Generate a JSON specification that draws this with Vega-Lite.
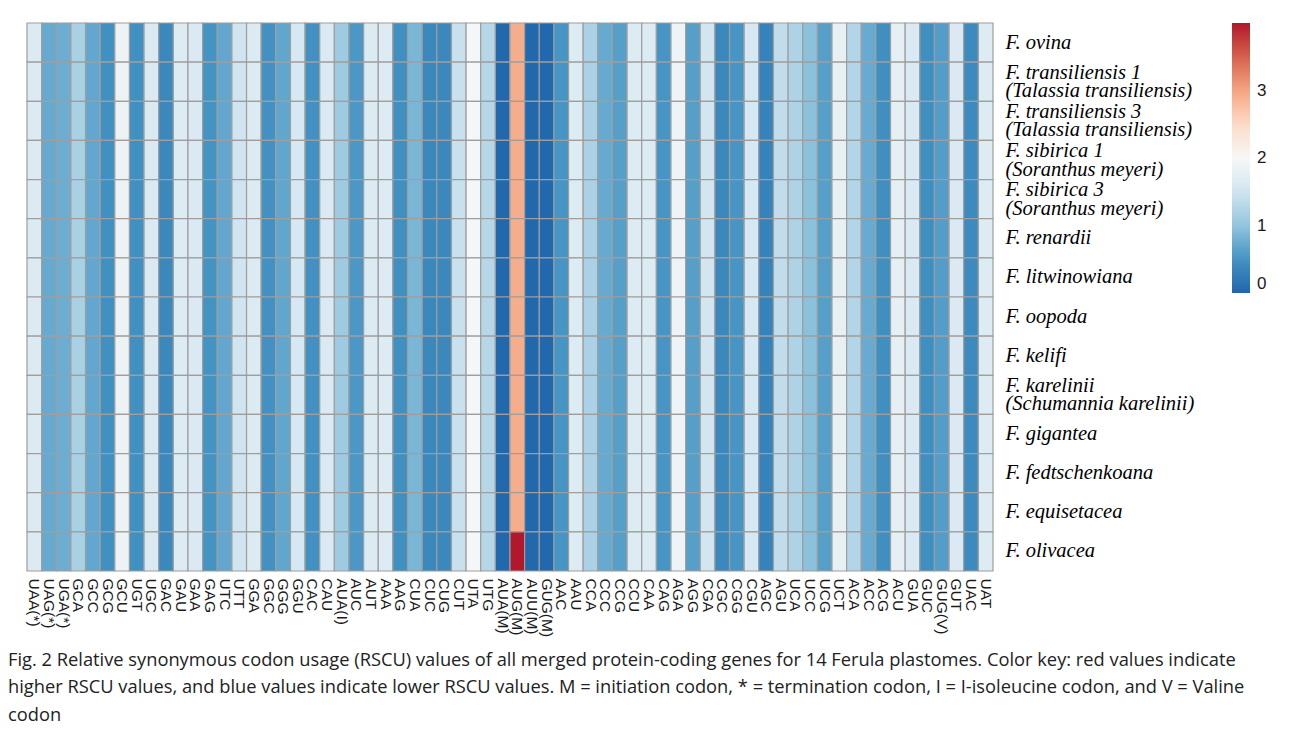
{
"$schema":"https://vega.github.io/schema/vega-lite/v6.json",
"width":966,"height":548,
"padding":{"left":8,"top":22,"right":5,"bottom":8},
"background":"white",
"config":{"view":{"stroke":null},"font":"Liberation Sans"},
"title":{"text":["Fig. 2  Relative synonymous codon usage (RSCU) values of all merged protein-coding genes for 14 Ferula plastomes. Color key: red values indicate","higher RSCU values, and blue values indicate lower RSCU values. M = initiation codon, * = termination codon, I = I-isoleucine codon, and V = Valine","codon"],"orient":"bottom","anchor":"start","frame":"group","dx":-19,"offset":15,"font":"Open Sans","fontSize":18.3,"fontWeight":"normal","lineHeight":27.5,"color":"#222222"},
"datasets":{
"species":[{"sp":"ov","order":1,"label":"F. ovina"},{"sp":"tr1","order":2,"label":"F. transiliensis 1|(Talassia transiliensis)"},{"sp":"tr3","order":3,"label":"F. transiliensis 3|(Talassia transiliensis)"},{"sp":"si1","order":4,"label":"F. sibirica 1|(Soranthus meyeri)"},{"sp":"si3","order":5,"label":"F. sibirica 3|(Soranthus meyeri)"},{"sp":"re","order":6,"label":"F. renardii"},{"sp":"li","order":7,"label":"F. litwinowiana"},{"sp":"oo","order":8,"label":"F. oopoda"},{"sp":"ke","order":9,"label":"F. kelifi"},{"sp":"ka","order":10,"label":"F. karelinii|(Schumannia karelinii)"},{"sp":"gi","order":11,"label":"F. gigantea"},{"sp":"fe","order":12,"label":"F. fedtschenkoana"},{"sp":"eq","order":13,"label":"F. equisetacea"},{"sp":"ol","order":14,"label":"F. olivacea"}],
"cells":[
{"sp":"ov","codon":"UAA(*)","rscu":1.65},{"sp":"ov","codon":"UAG(*)","rscu":0.73},{"sp":"ov","codon":"UGA(*)","rscu":0.76},{"sp":"ov","codon":"GCA","rscu":1.18},{"sp":"ov","codon":"GCC","rscu":0.7},{"sp":"ov","codon":"GCG","rscu":0.47},{"sp":"ov","codon":"GCU","rscu":1.87},{"sp":"ov","codon":"UGT","rscu":0.47},{"sp":"ov","codon":"UGC","rscu":1.62},{"sp":"ov","codon":"GAC","rscu":0.38},{"sp":"ov","codon":"GAU","rscu":1.66},{"sp":"ov","codon":"GAA","rscu":1.63},{"sp":"ov","codon":"GAG","rscu":0.5},{"sp":"ov","codon":"UTC","rscu":0.7},{"sp":"ov","codon":"UTT","rscu":1.5},{"sp":"ov","codon":"GGA","rscu":1.64},{"sp":"ov","codon":"GGC","rscu":0.48},{"sp":"ov","codon":"GGG","rscu":0.69},{"sp":"ov","codon":"GGU","rscu":1.57},{"sp":"ov","codon":"CAC","rscu":0.48},{"sp":"ov","codon":"CAU","rscu":1.63},{"sp":"ov","codon":"AUA(I)","rscu":1.1},{"sp":"ov","codon":"AUC","rscu":0.55},{"sp":"ov","codon":"AUT","rscu":1.64},{"sp":"ov","codon":"AAA","rscu":1.66},{"sp":"ov","codon":"AAG","rscu":0.45},{"sp":"ov","codon":"CUA","rscu":0.85},{"sp":"ov","codon":"CUC","rscu":0.38},{"sp":"ov","codon":"CUG","rscu":0.38},{"sp":"ov","codon":"CUT","rscu":1.43},{"sp":"ov","codon":"UTA","rscu":1.97},{"sp":"ov","codon":"UTG","rscu":1.28},{"sp":"ov","codon":"AUA(M)","rscu":0.02},{"sp":"ov","codon":"AUG(M)","rscu":2.93},{"sp":"ov","codon":"AUU(M)","rscu":0.02},{"sp":"ov","codon":"GUG(M)","rscu":0.02},{"sp":"ov","codon":"AAC","rscu":0.52},{"sp":"ov","codon":"AAU","rscu":1.66},{"sp":"ov","codon":"CCA","rscu":1.19},{"sp":"ov","codon":"CCC","rscu":0.73},{"sp":"ov","codon":"CCG","rscu":0.62},{"sp":"ov","codon":"CCU","rscu":1.66},{"sp":"ov","codon":"CAA","rscu":1.66},{"sp":"ov","codon":"CAG","rscu":0.52},{"sp":"ov","codon":"AGA","rscu":1.88},{"sp":"ov","codon":"AGG","rscu":0.62},{"sp":"ov","codon":"CGA","rscu":1.53},{"sp":"ov","codon":"CGC","rscu":0.38},{"sp":"ov","codon":"CGG","rscu":0.52},{"sp":"ov","codon":"CGU","rscu":1.57},{"sp":"ov","codon":"AGC","rscu":0.31},{"sp":"ov","codon":"AGU","rscu":1.37},{"sp":"ov","codon":"UCA","rscu":1.22},{"sp":"ov","codon":"UCC","rscu":0.96},{"sp":"ov","codon":"UCG","rscu":0.62},{"sp":"ov","codon":"UCT","rscu":1.8},{"sp":"ov","codon":"ACA","rscu":1.25},{"sp":"ov","codon":"ACC","rscu":0.74},{"sp":"ov","codon":"ACG","rscu":0.45},{"sp":"ov","codon":"ACU","rscu":1.78},{"sp":"ov","codon":"GUA","rscu":1.62},{"sp":"ov","codon":"GUC","rscu":0.46},{"sp":"ov","codon":"GUG(V)","rscu":0.6},{"sp":"ov","codon":"GUT","rscu":1.63},{"sp":"ov","codon":"UAC","rscu":0.4},{"sp":"ov","codon":"UAT","rscu":1.66},
{"sp":"tr1","codon":"UAA(*)","rscu":1.65},{"sp":"tr1","codon":"UAG(*)","rscu":0.73},{"sp":"tr1","codon":"UGA(*)","rscu":0.76},{"sp":"tr1","codon":"GCA","rscu":1.18},{"sp":"tr1","codon":"GCC","rscu":0.7},{"sp":"tr1","codon":"GCG","rscu":0.47},{"sp":"tr1","codon":"GCU","rscu":1.87},{"sp":"tr1","codon":"UGT","rscu":0.47},{"sp":"tr1","codon":"UGC","rscu":1.62},{"sp":"tr1","codon":"GAC","rscu":0.38},{"sp":"tr1","codon":"GAU","rscu":1.66},{"sp":"tr1","codon":"GAA","rscu":1.63},{"sp":"tr1","codon":"GAG","rscu":0.5},{"sp":"tr1","codon":"UTC","rscu":0.7},{"sp":"tr1","codon":"UTT","rscu":1.5},{"sp":"tr1","codon":"GGA","rscu":1.64},{"sp":"tr1","codon":"GGC","rscu":0.48},{"sp":"tr1","codon":"GGG","rscu":0.69},{"sp":"tr1","codon":"GGU","rscu":1.57},{"sp":"tr1","codon":"CAC","rscu":0.48},{"sp":"tr1","codon":"CAU","rscu":1.63},{"sp":"tr1","codon":"AUA(I)","rscu":1.1},{"sp":"tr1","codon":"AUC","rscu":0.55},{"sp":"tr1","codon":"AUT","rscu":1.64},{"sp":"tr1","codon":"AAA","rscu":1.66},{"sp":"tr1","codon":"AAG","rscu":0.45},{"sp":"tr1","codon":"CUA","rscu":0.85},{"sp":"tr1","codon":"CUC","rscu":0.38},{"sp":"tr1","codon":"CUG","rscu":0.38},{"sp":"tr1","codon":"CUT","rscu":1.43},{"sp":"tr1","codon":"UTA","rscu":1.97},{"sp":"tr1","codon":"UTG","rscu":1.28},{"sp":"tr1","codon":"AUA(M)","rscu":0.02},{"sp":"tr1","codon":"AUG(M)","rscu":2.93},{"sp":"tr1","codon":"AUU(M)","rscu":0.02},{"sp":"tr1","codon":"GUG(M)","rscu":0.02},{"sp":"tr1","codon":"AAC","rscu":0.52},{"sp":"tr1","codon":"AAU","rscu":1.66},{"sp":"tr1","codon":"CCA","rscu":1.19},{"sp":"tr1","codon":"CCC","rscu":0.73},{"sp":"tr1","codon":"CCG","rscu":0.62},{"sp":"tr1","codon":"CCU","rscu":1.66},{"sp":"tr1","codon":"CAA","rscu":1.66},{"sp":"tr1","codon":"CAG","rscu":0.52},{"sp":"tr1","codon":"AGA","rscu":1.88},{"sp":"tr1","codon":"AGG","rscu":0.62},{"sp":"tr1","codon":"CGA","rscu":1.53},{"sp":"tr1","codon":"CGC","rscu":0.38},{"sp":"tr1","codon":"CGG","rscu":0.52},{"sp":"tr1","codon":"CGU","rscu":1.57},{"sp":"tr1","codon":"AGC","rscu":0.31},{"sp":"tr1","codon":"AGU","rscu":1.37},{"sp":"tr1","codon":"UCA","rscu":1.22},{"sp":"tr1","codon":"UCC","rscu":0.96},{"sp":"tr1","codon":"UCG","rscu":0.62},{"sp":"tr1","codon":"UCT","rscu":1.8},{"sp":"tr1","codon":"ACA","rscu":1.25},{"sp":"tr1","codon":"ACC","rscu":0.74},{"sp":"tr1","codon":"ACG","rscu":0.45},{"sp":"tr1","codon":"ACU","rscu":1.78},{"sp":"tr1","codon":"GUA","rscu":1.62},{"sp":"tr1","codon":"GUC","rscu":0.46},{"sp":"tr1","codon":"GUG(V)","rscu":0.6},{"sp":"tr1","codon":"GUT","rscu":1.63},{"sp":"tr1","codon":"UAC","rscu":0.4},{"sp":"tr1","codon":"UAT","rscu":1.66},
{"sp":"tr3","codon":"UAA(*)","rscu":1.65},{"sp":"tr3","codon":"UAG(*)","rscu":0.73},{"sp":"tr3","codon":"UGA(*)","rscu":0.76},{"sp":"tr3","codon":"GCA","rscu":1.18},{"sp":"tr3","codon":"GCC","rscu":0.7},{"sp":"tr3","codon":"GCG","rscu":0.47},{"sp":"tr3","codon":"GCU","rscu":1.87},{"sp":"tr3","codon":"UGT","rscu":0.47},{"sp":"tr3","codon":"UGC","rscu":1.62},{"sp":"tr3","codon":"GAC","rscu":0.38},{"sp":"tr3","codon":"GAU","rscu":1.66},{"sp":"tr3","codon":"GAA","rscu":1.63},{"sp":"tr3","codon":"GAG","rscu":0.5},{"sp":"tr3","codon":"UTC","rscu":0.7},{"sp":"tr3","codon":"UTT","rscu":1.5},{"sp":"tr3","codon":"GGA","rscu":1.64},{"sp":"tr3","codon":"GGC","rscu":0.48},{"sp":"tr3","codon":"GGG","rscu":0.69},{"sp":"tr3","codon":"GGU","rscu":1.57},{"sp":"tr3","codon":"CAC","rscu":0.48},{"sp":"tr3","codon":"CAU","rscu":1.63},{"sp":"tr3","codon":"AUA(I)","rscu":1.1},{"sp":"tr3","codon":"AUC","rscu":0.55},{"sp":"tr3","codon":"AUT","rscu":1.64},{"sp":"tr3","codon":"AAA","rscu":1.66},{"sp":"tr3","codon":"AAG","rscu":0.45},{"sp":"tr3","codon":"CUA","rscu":0.85},{"sp":"tr3","codon":"CUC","rscu":0.38},{"sp":"tr3","codon":"CUG","rscu":0.38},{"sp":"tr3","codon":"CUT","rscu":1.43},{"sp":"tr3","codon":"UTA","rscu":1.97},{"sp":"tr3","codon":"UTG","rscu":1.28},{"sp":"tr3","codon":"AUA(M)","rscu":0.02},{"sp":"tr3","codon":"AUG(M)","rscu":2.93},{"sp":"tr3","codon":"AUU(M)","rscu":0.02},{"sp":"tr3","codon":"GUG(M)","rscu":0.02},{"sp":"tr3","codon":"AAC","rscu":0.52},{"sp":"tr3","codon":"AAU","rscu":1.66},{"sp":"tr3","codon":"CCA","rscu":1.19},{"sp":"tr3","codon":"CCC","rscu":0.73},{"sp":"tr3","codon":"CCG","rscu":0.62},{"sp":"tr3","codon":"CCU","rscu":1.66},{"sp":"tr3","codon":"CAA","rscu":1.66},{"sp":"tr3","codon":"CAG","rscu":0.52},{"sp":"tr3","codon":"AGA","rscu":1.88},{"sp":"tr3","codon":"AGG","rscu":0.62},{"sp":"tr3","codon":"CGA","rscu":1.53},{"sp":"tr3","codon":"CGC","rscu":0.38},{"sp":"tr3","codon":"CGG","rscu":0.52},{"sp":"tr3","codon":"CGU","rscu":1.57},{"sp":"tr3","codon":"AGC","rscu":0.31},{"sp":"tr3","codon":"AGU","rscu":1.37},{"sp":"tr3","codon":"UCA","rscu":1.22},{"sp":"tr3","codon":"UCC","rscu":0.96},{"sp":"tr3","codon":"UCG","rscu":0.62},{"sp":"tr3","codon":"UCT","rscu":1.8},{"sp":"tr3","codon":"ACA","rscu":1.25},{"sp":"tr3","codon":"ACC","rscu":0.74},{"sp":"tr3","codon":"ACG","rscu":0.45},{"sp":"tr3","codon":"ACU","rscu":1.78},{"sp":"tr3","codon":"GUA","rscu":1.62},{"sp":"tr3","codon":"GUC","rscu":0.46},{"sp":"tr3","codon":"GUG(V)","rscu":0.6},{"sp":"tr3","codon":"GUT","rscu":1.63},{"sp":"tr3","codon":"UAC","rscu":0.4},{"sp":"tr3","codon":"UAT","rscu":1.66},
{"sp":"si1","codon":"UAA(*)","rscu":1.65},{"sp":"si1","codon":"UAG(*)","rscu":0.73},{"sp":"si1","codon":"UGA(*)","rscu":0.76},{"sp":"si1","codon":"GCA","rscu":1.18},{"sp":"si1","codon":"GCC","rscu":0.7},{"sp":"si1","codon":"GCG","rscu":0.47},{"sp":"si1","codon":"GCU","rscu":1.87},{"sp":"si1","codon":"UGT","rscu":0.47},{"sp":"si1","codon":"UGC","rscu":1.62},{"sp":"si1","codon":"GAC","rscu":0.38},{"sp":"si1","codon":"GAU","rscu":1.66},{"sp":"si1","codon":"GAA","rscu":1.63},{"sp":"si1","codon":"GAG","rscu":0.5},{"sp":"si1","codon":"UTC","rscu":0.7},{"sp":"si1","codon":"UTT","rscu":1.5},{"sp":"si1","codon":"GGA","rscu":1.64},{"sp":"si1","codon":"GGC","rscu":0.48},{"sp":"si1","codon":"GGG","rscu":0.69},{"sp":"si1","codon":"GGU","rscu":1.57},{"sp":"si1","codon":"CAC","rscu":0.48},{"sp":"si1","codon":"CAU","rscu":1.63},{"sp":"si1","codon":"AUA(I)","rscu":1.1},{"sp":"si1","codon":"AUC","rscu":0.55},{"sp":"si1","codon":"AUT","rscu":1.64},{"sp":"si1","codon":"AAA","rscu":1.66},{"sp":"si1","codon":"AAG","rscu":0.45},{"sp":"si1","codon":"CUA","rscu":0.85},{"sp":"si1","codon":"CUC","rscu":0.38},{"sp":"si1","codon":"CUG","rscu":0.38},{"sp":"si1","codon":"CUT","rscu":1.43},{"sp":"si1","codon":"UTA","rscu":1.97},{"sp":"si1","codon":"UTG","rscu":1.28},{"sp":"si1","codon":"AUA(M)","rscu":0.02},{"sp":"si1","codon":"AUG(M)","rscu":2.93},{"sp":"si1","codon":"AUU(M)","rscu":0.02},{"sp":"si1","codon":"GUG(M)","rscu":0.02},{"sp":"si1","codon":"AAC","rscu":0.52},{"sp":"si1","codon":"AAU","rscu":1.66},{"sp":"si1","codon":"CCA","rscu":1.19},{"sp":"si1","codon":"CCC","rscu":0.73},{"sp":"si1","codon":"CCG","rscu":0.62},{"sp":"si1","codon":"CCU","rscu":1.66},{"sp":"si1","codon":"CAA","rscu":1.66},{"sp":"si1","codon":"CAG","rscu":0.52},{"sp":"si1","codon":"AGA","rscu":1.88},{"sp":"si1","codon":"AGG","rscu":0.62},{"sp":"si1","codon":"CGA","rscu":1.53},{"sp":"si1","codon":"CGC","rscu":0.38},{"sp":"si1","codon":"CGG","rscu":0.52},{"sp":"si1","codon":"CGU","rscu":1.57},{"sp":"si1","codon":"AGC","rscu":0.31},{"sp":"si1","codon":"AGU","rscu":1.37},{"sp":"si1","codon":"UCA","rscu":1.22},{"sp":"si1","codon":"UCC","rscu":0.96},{"sp":"si1","codon":"UCG","rscu":0.62},{"sp":"si1","codon":"UCT","rscu":1.8},{"sp":"si1","codon":"ACA","rscu":1.25},{"sp":"si1","codon":"ACC","rscu":0.74},{"sp":"si1","codon":"ACG","rscu":0.45},{"sp":"si1","codon":"ACU","rscu":1.78},{"sp":"si1","codon":"GUA","rscu":1.62},{"sp":"si1","codon":"GUC","rscu":0.46},{"sp":"si1","codon":"GUG(V)","rscu":0.6},{"sp":"si1","codon":"GUT","rscu":1.63},{"sp":"si1","codon":"UAC","rscu":0.4},{"sp":"si1","codon":"UAT","rscu":1.66},
{"sp":"si3","codon":"UAA(*)","rscu":1.65},{"sp":"si3","codon":"UAG(*)","rscu":0.73},{"sp":"si3","codon":"UGA(*)","rscu":0.76},{"sp":"si3","codon":"GCA","rscu":1.18},{"sp":"si3","codon":"GCC","rscu":0.7},{"sp":"si3","codon":"GCG","rscu":0.47},{"sp":"si3","codon":"GCU","rscu":1.87},{"sp":"si3","codon":"UGT","rscu":0.47},{"sp":"si3","codon":"UGC","rscu":1.62},{"sp":"si3","codon":"GAC","rscu":0.38},{"sp":"si3","codon":"GAU","rscu":1.66},{"sp":"si3","codon":"GAA","rscu":1.63},{"sp":"si3","codon":"GAG","rscu":0.5},{"sp":"si3","codon":"UTC","rscu":0.7},{"sp":"si3","codon":"UTT","rscu":1.5},{"sp":"si3","codon":"GGA","rscu":1.64},{"sp":"si3","codon":"GGC","rscu":0.48},{"sp":"si3","codon":"GGG","rscu":0.69},{"sp":"si3","codon":"GGU","rscu":1.57},{"sp":"si3","codon":"CAC","rscu":0.48},{"sp":"si3","codon":"CAU","rscu":1.63},{"sp":"si3","codon":"AUA(I)","rscu":1.1},{"sp":"si3","codon":"AUC","rscu":0.55},{"sp":"si3","codon":"AUT","rscu":1.64},{"sp":"si3","codon":"AAA","rscu":1.66},{"sp":"si3","codon":"AAG","rscu":0.45},{"sp":"si3","codon":"CUA","rscu":0.85},{"sp":"si3","codon":"CUC","rscu":0.38},{"sp":"si3","codon":"CUG","rscu":0.38},{"sp":"si3","codon":"CUT","rscu":1.43},{"sp":"si3","codon":"UTA","rscu":1.97},{"sp":"si3","codon":"UTG","rscu":1.28},{"sp":"si3","codon":"AUA(M)","rscu":0.02},{"sp":"si3","codon":"AUG(M)","rscu":2.93},{"sp":"si3","codon":"AUU(M)","rscu":0.02},{"sp":"si3","codon":"GUG(M)","rscu":0.02},{"sp":"si3","codon":"AAC","rscu":0.52},{"sp":"si3","codon":"AAU","rscu":1.66},{"sp":"si3","codon":"CCA","rscu":1.19},{"sp":"si3","codon":"CCC","rscu":0.73},{"sp":"si3","codon":"CCG","rscu":0.62},{"sp":"si3","codon":"CCU","rscu":1.66},{"sp":"si3","codon":"CAA","rscu":1.66},{"sp":"si3","codon":"CAG","rscu":0.52},{"sp":"si3","codon":"AGA","rscu":1.88},{"sp":"si3","codon":"AGG","rscu":0.62},{"sp":"si3","codon":"CGA","rscu":1.53},{"sp":"si3","codon":"CGC","rscu":0.38},{"sp":"si3","codon":"CGG","rscu":0.52},{"sp":"si3","codon":"CGU","rscu":1.57},{"sp":"si3","codon":"AGC","rscu":0.31},{"sp":"si3","codon":"AGU","rscu":1.37},{"sp":"si3","codon":"UCA","rscu":1.22},{"sp":"si3","codon":"UCC","rscu":0.96},{"sp":"si3","codon":"UCG","rscu":0.62},{"sp":"si3","codon":"UCT","rscu":1.8},{"sp":"si3","codon":"ACA","rscu":1.25},{"sp":"si3","codon":"ACC","rscu":0.74},{"sp":"si3","codon":"ACG","rscu":0.45},{"sp":"si3","codon":"ACU","rscu":1.78},{"sp":"si3","codon":"GUA","rscu":1.62},{"sp":"si3","codon":"GUC","rscu":0.46},{"sp":"si3","codon":"GUG(V)","rscu":0.6},{"sp":"si3","codon":"GUT","rscu":1.63},{"sp":"si3","codon":"UAC","rscu":0.4},{"sp":"si3","codon":"UAT","rscu":1.66},
{"sp":"re","codon":"UAA(*)","rscu":1.65},{"sp":"re","codon":"UAG(*)","rscu":0.73},{"sp":"re","codon":"UGA(*)","rscu":0.76},{"sp":"re","codon":"GCA","rscu":1.18},{"sp":"re","codon":"GCC","rscu":0.7},{"sp":"re","codon":"GCG","rscu":0.47},{"sp":"re","codon":"GCU","rscu":1.87},{"sp":"re","codon":"UGT","rscu":0.47},{"sp":"re","codon":"UGC","rscu":1.62},{"sp":"re","codon":"GAC","rscu":0.38},{"sp":"re","codon":"GAU","rscu":1.66},{"sp":"re","codon":"GAA","rscu":1.63},{"sp":"re","codon":"GAG","rscu":0.5},{"sp":"re","codon":"UTC","rscu":0.7},{"sp":"re","codon":"UTT","rscu":1.5},{"sp":"re","codon":"GGA","rscu":1.64},{"sp":"re","codon":"GGC","rscu":0.48},{"sp":"re","codon":"GGG","rscu":0.69},{"sp":"re","codon":"GGU","rscu":1.57},{"sp":"re","codon":"CAC","rscu":0.48},{"sp":"re","codon":"CAU","rscu":1.63},{"sp":"re","codon":"AUA(I)","rscu":1.1},{"sp":"re","codon":"AUC","rscu":0.55},{"sp":"re","codon":"AUT","rscu":1.64},{"sp":"re","codon":"AAA","rscu":1.66},{"sp":"re","codon":"AAG","rscu":0.45},{"sp":"re","codon":"CUA","rscu":0.85},{"sp":"re","codon":"CUC","rscu":0.38},{"sp":"re","codon":"CUG","rscu":0.38},{"sp":"re","codon":"CUT","rscu":1.43},{"sp":"re","codon":"UTA","rscu":1.97},{"sp":"re","codon":"UTG","rscu":1.28},{"sp":"re","codon":"AUA(M)","rscu":0.02},{"sp":"re","codon":"AUG(M)","rscu":2.93},{"sp":"re","codon":"AUU(M)","rscu":0.02},{"sp":"re","codon":"GUG(M)","rscu":0.02},{"sp":"re","codon":"AAC","rscu":0.52},{"sp":"re","codon":"AAU","rscu":1.66},{"sp":"re","codon":"CCA","rscu":1.19},{"sp":"re","codon":"CCC","rscu":0.73},{"sp":"re","codon":"CCG","rscu":0.62},{"sp":"re","codon":"CCU","rscu":1.66},{"sp":"re","codon":"CAA","rscu":1.66},{"sp":"re","codon":"CAG","rscu":0.52},{"sp":"re","codon":"AGA","rscu":1.88},{"sp":"re","codon":"AGG","rscu":0.62},{"sp":"re","codon":"CGA","rscu":1.53},{"sp":"re","codon":"CGC","rscu":0.38},{"sp":"re","codon":"CGG","rscu":0.52},{"sp":"re","codon":"CGU","rscu":1.57},{"sp":"re","codon":"AGC","rscu":0.31},{"sp":"re","codon":"AGU","rscu":1.37},{"sp":"re","codon":"UCA","rscu":1.22},{"sp":"re","codon":"UCC","rscu":0.96},{"sp":"re","codon":"UCG","rscu":0.62},{"sp":"re","codon":"UCT","rscu":1.8},{"sp":"re","codon":"ACA","rscu":1.25},{"sp":"re","codon":"ACC","rscu":0.74},{"sp":"re","codon":"ACG","rscu":0.45},{"sp":"re","codon":"ACU","rscu":1.78},{"sp":"re","codon":"GUA","rscu":1.62},{"sp":"re","codon":"GUC","rscu":0.46},{"sp":"re","codon":"GUG(V)","rscu":0.6},{"sp":"re","codon":"GUT","rscu":1.63},{"sp":"re","codon":"UAC","rscu":0.4},{"sp":"re","codon":"UAT","rscu":1.66},
{"sp":"li","codon":"UAA(*)","rscu":1.65},{"sp":"li","codon":"UAG(*)","rscu":0.73},{"sp":"li","codon":"UGA(*)","rscu":0.76},{"sp":"li","codon":"GCA","rscu":1.18},{"sp":"li","codon":"GCC","rscu":0.7},{"sp":"li","codon":"GCG","rscu":0.47},{"sp":"li","codon":"GCU","rscu":1.87},{"sp":"li","codon":"UGT","rscu":0.47},{"sp":"li","codon":"UGC","rscu":1.62},{"sp":"li","codon":"GAC","rscu":0.38},{"sp":"li","codon":"GAU","rscu":1.66},{"sp":"li","codon":"GAA","rscu":1.63},{"sp":"li","codon":"GAG","rscu":0.5},{"sp":"li","codon":"UTC","rscu":0.7},{"sp":"li","codon":"UTT","rscu":1.5},{"sp":"li","codon":"GGA","rscu":1.64},{"sp":"li","codon":"GGC","rscu":0.48},{"sp":"li","codon":"GGG","rscu":0.69},{"sp":"li","codon":"GGU","rscu":1.57},{"sp":"li","codon":"CAC","rscu":0.48},{"sp":"li","codon":"CAU","rscu":1.63},{"sp":"li","codon":"AUA(I)","rscu":1.1},{"sp":"li","codon":"AUC","rscu":0.55},{"sp":"li","codon":"AUT","rscu":1.64},{"sp":"li","codon":"AAA","rscu":1.66},{"sp":"li","codon":"AAG","rscu":0.45},{"sp":"li","codon":"CUA","rscu":0.85},{"sp":"li","codon":"CUC","rscu":0.38},{"sp":"li","codon":"CUG","rscu":0.38},{"sp":"li","codon":"CUT","rscu":1.43},{"sp":"li","codon":"UTA","rscu":1.97},{"sp":"li","codon":"UTG","rscu":1.28},{"sp":"li","codon":"AUA(M)","rscu":0.02},{"sp":"li","codon":"AUG(M)","rscu":2.93},{"sp":"li","codon":"AUU(M)","rscu":0.02},{"sp":"li","codon":"GUG(M)","rscu":0.02},{"sp":"li","codon":"AAC","rscu":0.52},{"sp":"li","codon":"AAU","rscu":1.66},{"sp":"li","codon":"CCA","rscu":1.19},{"sp":"li","codon":"CCC","rscu":0.73},{"sp":"li","codon":"CCG","rscu":0.62},{"sp":"li","codon":"CCU","rscu":1.66},{"sp":"li","codon":"CAA","rscu":1.66},{"sp":"li","codon":"CAG","rscu":0.52},{"sp":"li","codon":"AGA","rscu":1.88},{"sp":"li","codon":"AGG","rscu":0.62},{"sp":"li","codon":"CGA","rscu":1.53},{"sp":"li","codon":"CGC","rscu":0.38},{"sp":"li","codon":"CGG","rscu":0.52},{"sp":"li","codon":"CGU","rscu":1.57},{"sp":"li","codon":"AGC","rscu":0.31},{"sp":"li","codon":"AGU","rscu":1.37},{"sp":"li","codon":"UCA","rscu":1.22},{"sp":"li","codon":"UCC","rscu":0.96},{"sp":"li","codon":"UCG","rscu":0.62},{"sp":"li","codon":"UCT","rscu":1.8},{"sp":"li","codon":"ACA","rscu":1.25},{"sp":"li","codon":"ACC","rscu":0.74},{"sp":"li","codon":"ACG","rscu":0.45},{"sp":"li","codon":"ACU","rscu":1.78},{"sp":"li","codon":"GUA","rscu":1.62},{"sp":"li","codon":"GUC","rscu":0.46},{"sp":"li","codon":"GUG(V)","rscu":0.6},{"sp":"li","codon":"GUT","rscu":1.63},{"sp":"li","codon":"UAC","rscu":0.4},{"sp":"li","codon":"UAT","rscu":1.66},
{"sp":"oo","codon":"UAA(*)","rscu":1.65},{"sp":"oo","codon":"UAG(*)","rscu":0.73},{"sp":"oo","codon":"UGA(*)","rscu":0.76},{"sp":"oo","codon":"GCA","rscu":1.18},{"sp":"oo","codon":"GCC","rscu":0.7},{"sp":"oo","codon":"GCG","rscu":0.47},{"sp":"oo","codon":"GCU","rscu":1.87},{"sp":"oo","codon":"UGT","rscu":0.47},{"sp":"oo","codon":"UGC","rscu":1.62},{"sp":"oo","codon":"GAC","rscu":0.38},{"sp":"oo","codon":"GAU","rscu":1.66},{"sp":"oo","codon":"GAA","rscu":1.63},{"sp":"oo","codon":"GAG","rscu":0.5},{"sp":"oo","codon":"UTC","rscu":0.7},{"sp":"oo","codon":"UTT","rscu":1.5},{"sp":"oo","codon":"GGA","rscu":1.64},{"sp":"oo","codon":"GGC","rscu":0.48},{"sp":"oo","codon":"GGG","rscu":0.69},{"sp":"oo","codon":"GGU","rscu":1.57},{"sp":"oo","codon":"CAC","rscu":0.48},{"sp":"oo","codon":"CAU","rscu":1.63},{"sp":"oo","codon":"AUA(I)","rscu":1.1},{"sp":"oo","codon":"AUC","rscu":0.55},{"sp":"oo","codon":"AUT","rscu":1.64},{"sp":"oo","codon":"AAA","rscu":1.66},{"sp":"oo","codon":"AAG","rscu":0.45},{"sp":"oo","codon":"CUA","rscu":0.85},{"sp":"oo","codon":"CUC","rscu":0.38},{"sp":"oo","codon":"CUG","rscu":0.38},{"sp":"oo","codon":"CUT","rscu":1.43},{"sp":"oo","codon":"UTA","rscu":1.97},{"sp":"oo","codon":"UTG","rscu":1.28},{"sp":"oo","codon":"AUA(M)","rscu":0.02},{"sp":"oo","codon":"AUG(M)","rscu":2.93},{"sp":"oo","codon":"AUU(M)","rscu":0.02},{"sp":"oo","codon":"GUG(M)","rscu":0.02},{"sp":"oo","codon":"AAC","rscu":0.52},{"sp":"oo","codon":"AAU","rscu":1.66},{"sp":"oo","codon":"CCA","rscu":1.19},{"sp":"oo","codon":"CCC","rscu":0.73},{"sp":"oo","codon":"CCG","rscu":0.62},{"sp":"oo","codon":"CCU","rscu":1.66},{"sp":"oo","codon":"CAA","rscu":1.66},{"sp":"oo","codon":"CAG","rscu":0.52},{"sp":"oo","codon":"AGA","rscu":1.88},{"sp":"oo","codon":"AGG","rscu":0.62},{"sp":"oo","codon":"CGA","rscu":1.53},{"sp":"oo","codon":"CGC","rscu":0.38},{"sp":"oo","codon":"CGG","rscu":0.52},{"sp":"oo","codon":"CGU","rscu":1.57},{"sp":"oo","codon":"AGC","rscu":0.31},{"sp":"oo","codon":"AGU","rscu":1.37},{"sp":"oo","codon":"UCA","rscu":1.22},{"sp":"oo","codon":"UCC","rscu":0.96},{"sp":"oo","codon":"UCG","rscu":0.62},{"sp":"oo","codon":"UCT","rscu":1.8},{"sp":"oo","codon":"ACA","rscu":1.25},{"sp":"oo","codon":"ACC","rscu":0.74},{"sp":"oo","codon":"ACG","rscu":0.45},{"sp":"oo","codon":"ACU","rscu":1.78},{"sp":"oo","codon":"GUA","rscu":1.62},{"sp":"oo","codon":"GUC","rscu":0.46},{"sp":"oo","codon":"GUG(V)","rscu":0.6},{"sp":"oo","codon":"GUT","rscu":1.63},{"sp":"oo","codon":"UAC","rscu":0.4},{"sp":"oo","codon":"UAT","rscu":1.66},
{"sp":"ke","codon":"UAA(*)","rscu":1.65},{"sp":"ke","codon":"UAG(*)","rscu":0.73},{"sp":"ke","codon":"UGA(*)","rscu":0.76},{"sp":"ke","codon":"GCA","rscu":1.18},{"sp":"ke","codon":"GCC","rscu":0.7},{"sp":"ke","codon":"GCG","rscu":0.47},{"sp":"ke","codon":"GCU","rscu":1.87},{"sp":"ke","codon":"UGT","rscu":0.47},{"sp":"ke","codon":"UGC","rscu":1.62},{"sp":"ke","codon":"GAC","rscu":0.38},{"sp":"ke","codon":"GAU","rscu":1.66},{"sp":"ke","codon":"GAA","rscu":1.63},{"sp":"ke","codon":"GAG","rscu":0.5},{"sp":"ke","codon":"UTC","rscu":0.7},{"sp":"ke","codon":"UTT","rscu":1.5},{"sp":"ke","codon":"GGA","rscu":1.64},{"sp":"ke","codon":"GGC","rscu":0.48},{"sp":"ke","codon":"GGG","rscu":0.69},{"sp":"ke","codon":"GGU","rscu":1.57},{"sp":"ke","codon":"CAC","rscu":0.48},{"sp":"ke","codon":"CAU","rscu":1.63},{"sp":"ke","codon":"AUA(I)","rscu":1.1},{"sp":"ke","codon":"AUC","rscu":0.55},{"sp":"ke","codon":"AUT","rscu":1.64},{"sp":"ke","codon":"AAA","rscu":1.66},{"sp":"ke","codon":"AAG","rscu":0.45},{"sp":"ke","codon":"CUA","rscu":0.85},{"sp":"ke","codon":"CUC","rscu":0.38},{"sp":"ke","codon":"CUG","rscu":0.38},{"sp":"ke","codon":"CUT","rscu":1.43},{"sp":"ke","codon":"UTA","rscu":1.97},{"sp":"ke","codon":"UTG","rscu":1.28},{"sp":"ke","codon":"AUA(M)","rscu":0.02},{"sp":"ke","codon":"AUG(M)","rscu":2.93},{"sp":"ke","codon":"AUU(M)","rscu":0.02},{"sp":"ke","codon":"GUG(M)","rscu":0.02},{"sp":"ke","codon":"AAC","rscu":0.52},{"sp":"ke","codon":"AAU","rscu":1.66},{"sp":"ke","codon":"CCA","rscu":1.19},{"sp":"ke","codon":"CCC","rscu":0.73},{"sp":"ke","codon":"CCG","rscu":0.62},{"sp":"ke","codon":"CCU","rscu":1.66},{"sp":"ke","codon":"CAA","rscu":1.66},{"sp":"ke","codon":"CAG","rscu":0.52},{"sp":"ke","codon":"AGA","rscu":1.88},{"sp":"ke","codon":"AGG","rscu":0.62},{"sp":"ke","codon":"CGA","rscu":1.53},{"sp":"ke","codon":"CGC","rscu":0.38},{"sp":"ke","codon":"CGG","rscu":0.52},{"sp":"ke","codon":"CGU","rscu":1.57},{"sp":"ke","codon":"AGC","rscu":0.31},{"sp":"ke","codon":"AGU","rscu":1.37},{"sp":"ke","codon":"UCA","rscu":1.22},{"sp":"ke","codon":"UCC","rscu":0.96},{"sp":"ke","codon":"UCG","rscu":0.62},{"sp":"ke","codon":"UCT","rscu":1.8},{"sp":"ke","codon":"ACA","rscu":1.25},{"sp":"ke","codon":"ACC","rscu":0.74},{"sp":"ke","codon":"ACG","rscu":0.45},{"sp":"ke","codon":"ACU","rscu":1.78},{"sp":"ke","codon":"GUA","rscu":1.62},{"sp":"ke","codon":"GUC","rscu":0.46},{"sp":"ke","codon":"GUG(V)","rscu":0.6},{"sp":"ke","codon":"GUT","rscu":1.63},{"sp":"ke","codon":"UAC","rscu":0.4},{"sp":"ke","codon":"UAT","rscu":1.66},
{"sp":"ka","codon":"UAA(*)","rscu":1.65},{"sp":"ka","codon":"UAG(*)","rscu":0.73},{"sp":"ka","codon":"UGA(*)","rscu":0.76},{"sp":"ka","codon":"GCA","rscu":1.18},{"sp":"ka","codon":"GCC","rscu":0.7},{"sp":"ka","codon":"GCG","rscu":0.47},{"sp":"ka","codon":"GCU","rscu":1.87},{"sp":"ka","codon":"UGT","rscu":0.47},{"sp":"ka","codon":"UGC","rscu":1.62},{"sp":"ka","codon":"GAC","rscu":0.38},{"sp":"ka","codon":"GAU","rscu":1.66},{"sp":"ka","codon":"GAA","rscu":1.63},{"sp":"ka","codon":"GAG","rscu":0.5},{"sp":"ka","codon":"UTC","rscu":0.7},{"sp":"ka","codon":"UTT","rscu":1.5},{"sp":"ka","codon":"GGA","rscu":1.64},{"sp":"ka","codon":"GGC","rscu":0.48},{"sp":"ka","codon":"GGG","rscu":0.69},{"sp":"ka","codon":"GGU","rscu":1.57},{"sp":"ka","codon":"CAC","rscu":0.48},{"sp":"ka","codon":"CAU","rscu":1.63},{"sp":"ka","codon":"AUA(I)","rscu":1.1},{"sp":"ka","codon":"AUC","rscu":0.55},{"sp":"ka","codon":"AUT","rscu":1.64},{"sp":"ka","codon":"AAA","rscu":1.66},{"sp":"ka","codon":"AAG","rscu":0.45},{"sp":"ka","codon":"CUA","rscu":0.85},{"sp":"ka","codon":"CUC","rscu":0.38},{"sp":"ka","codon":"CUG","rscu":0.38},{"sp":"ka","codon":"CUT","rscu":1.43},{"sp":"ka","codon":"UTA","rscu":1.97},{"sp":"ka","codon":"UTG","rscu":1.28},{"sp":"ka","codon":"AUA(M)","rscu":0.02},{"sp":"ka","codon":"AUG(M)","rscu":2.93},{"sp":"ka","codon":"AUU(M)","rscu":0.02},{"sp":"ka","codon":"GUG(M)","rscu":0.02},{"sp":"ka","codon":"AAC","rscu":0.52},{"sp":"ka","codon":"AAU","rscu":1.66},{"sp":"ka","codon":"CCA","rscu":1.19},{"sp":"ka","codon":"CCC","rscu":0.73},{"sp":"ka","codon":"CCG","rscu":0.62},{"sp":"ka","codon":"CCU","rscu":1.66},{"sp":"ka","codon":"CAA","rscu":1.66},{"sp":"ka","codon":"CAG","rscu":0.52},{"sp":"ka","codon":"AGA","rscu":1.88},{"sp":"ka","codon":"AGG","rscu":0.62},{"sp":"ka","codon":"CGA","rscu":1.53},{"sp":"ka","codon":"CGC","rscu":0.38},{"sp":"ka","codon":"CGG","rscu":0.52},{"sp":"ka","codon":"CGU","rscu":1.57},{"sp":"ka","codon":"AGC","rscu":0.31},{"sp":"ka","codon":"AGU","rscu":1.37},{"sp":"ka","codon":"UCA","rscu":1.22},{"sp":"ka","codon":"UCC","rscu":0.96},{"sp":"ka","codon":"UCG","rscu":0.62},{"sp":"ka","codon":"UCT","rscu":1.8},{"sp":"ka","codon":"ACA","rscu":1.25},{"sp":"ka","codon":"ACC","rscu":0.74},{"sp":"ka","codon":"ACG","rscu":0.45},{"sp":"ka","codon":"ACU","rscu":1.78},{"sp":"ka","codon":"GUA","rscu":1.62},{"sp":"ka","codon":"GUC","rscu":0.46},{"sp":"ka","codon":"GUG(V)","rscu":0.6},{"sp":"ka","codon":"GUT","rscu":1.63},{"sp":"ka","codon":"UAC","rscu":0.4},{"sp":"ka","codon":"UAT","rscu":1.66},
{"sp":"gi","codon":"UAA(*)","rscu":1.65},{"sp":"gi","codon":"UAG(*)","rscu":0.73},{"sp":"gi","codon":"UGA(*)","rscu":0.76},{"sp":"gi","codon":"GCA","rscu":1.18},{"sp":"gi","codon":"GCC","rscu":0.7},{"sp":"gi","codon":"GCG","rscu":0.47},{"sp":"gi","codon":"GCU","rscu":1.87},{"sp":"gi","codon":"UGT","rscu":0.47},{"sp":"gi","codon":"UGC","rscu":1.62},{"sp":"gi","codon":"GAC","rscu":0.38},{"sp":"gi","codon":"GAU","rscu":1.66},{"sp":"gi","codon":"GAA","rscu":1.63},{"sp":"gi","codon":"GAG","rscu":0.5},{"sp":"gi","codon":"UTC","rscu":0.7},{"sp":"gi","codon":"UTT","rscu":1.5},{"sp":"gi","codon":"GGA","rscu":1.64},{"sp":"gi","codon":"GGC","rscu":0.48},{"sp":"gi","codon":"GGG","rscu":0.69},{"sp":"gi","codon":"GGU","rscu":1.57},{"sp":"gi","codon":"CAC","rscu":0.48},{"sp":"gi","codon":"CAU","rscu":1.63},{"sp":"gi","codon":"AUA(I)","rscu":1.1},{"sp":"gi","codon":"AUC","rscu":0.55},{"sp":"gi","codon":"AUT","rscu":1.64},{"sp":"gi","codon":"AAA","rscu":1.66},{"sp":"gi","codon":"AAG","rscu":0.45},{"sp":"gi","codon":"CUA","rscu":0.85},{"sp":"gi","codon":"CUC","rscu":0.38},{"sp":"gi","codon":"CUG","rscu":0.38},{"sp":"gi","codon":"CUT","rscu":1.43},{"sp":"gi","codon":"UTA","rscu":1.97},{"sp":"gi","codon":"UTG","rscu":1.28},{"sp":"gi","codon":"AUA(M)","rscu":0.02},{"sp":"gi","codon":"AUG(M)","rscu":2.93},{"sp":"gi","codon":"AUU(M)","rscu":0.02},{"sp":"gi","codon":"GUG(M)","rscu":0.02},{"sp":"gi","codon":"AAC","rscu":0.52},{"sp":"gi","codon":"AAU","rscu":1.66},{"sp":"gi","codon":"CCA","rscu":1.19},{"sp":"gi","codon":"CCC","rscu":0.73},{"sp":"gi","codon":"CCG","rscu":0.62},{"sp":"gi","codon":"CCU","rscu":1.66},{"sp":"gi","codon":"CAA","rscu":1.66},{"sp":"gi","codon":"CAG","rscu":0.52},{"sp":"gi","codon":"AGA","rscu":1.88},{"sp":"gi","codon":"AGG","rscu":0.62},{"sp":"gi","codon":"CGA","rscu":1.53},{"sp":"gi","codon":"CGC","rscu":0.38},{"sp":"gi","codon":"CGG","rscu":0.52},{"sp":"gi","codon":"CGU","rscu":1.57},{"sp":"gi","codon":"AGC","rscu":0.31},{"sp":"gi","codon":"AGU","rscu":1.37},{"sp":"gi","codon":"UCA","rscu":1.22},{"sp":"gi","codon":"UCC","rscu":0.96},{"sp":"gi","codon":"UCG","rscu":0.62},{"sp":"gi","codon":"UCT","rscu":1.8},{"sp":"gi","codon":"ACA","rscu":1.25},{"sp":"gi","codon":"ACC","rscu":0.74},{"sp":"gi","codon":"ACG","rscu":0.45},{"sp":"gi","codon":"ACU","rscu":1.78},{"sp":"gi","codon":"GUA","rscu":1.62},{"sp":"gi","codon":"GUC","rscu":0.46},{"sp":"gi","codon":"GUG(V)","rscu":0.6},{"sp":"gi","codon":"GUT","rscu":1.63},{"sp":"gi","codon":"UAC","rscu":0.4},{"sp":"gi","codon":"UAT","rscu":1.66},
{"sp":"fe","codon":"UAA(*)","rscu":1.65},{"sp":"fe","codon":"UAG(*)","rscu":0.73},{"sp":"fe","codon":"UGA(*)","rscu":0.76},{"sp":"fe","codon":"GCA","rscu":1.18},{"sp":"fe","codon":"GCC","rscu":0.7},{"sp":"fe","codon":"GCG","rscu":0.47},{"sp":"fe","codon":"GCU","rscu":1.87},{"sp":"fe","codon":"UGT","rscu":0.47},{"sp":"fe","codon":"UGC","rscu":1.62},{"sp":"fe","codon":"GAC","rscu":0.38},{"sp":"fe","codon":"GAU","rscu":1.66},{"sp":"fe","codon":"GAA","rscu":1.63},{"sp":"fe","codon":"GAG","rscu":0.5},{"sp":"fe","codon":"UTC","rscu":0.7},{"sp":"fe","codon":"UTT","rscu":1.5},{"sp":"fe","codon":"GGA","rscu":1.64},{"sp":"fe","codon":"GGC","rscu":0.48},{"sp":"fe","codon":"GGG","rscu":0.69},{"sp":"fe","codon":"GGU","rscu":1.57},{"sp":"fe","codon":"CAC","rscu":0.48},{"sp":"fe","codon":"CAU","rscu":1.63},{"sp":"fe","codon":"AUA(I)","rscu":1.1},{"sp":"fe","codon":"AUC","rscu":0.55},{"sp":"fe","codon":"AUT","rscu":1.64},{"sp":"fe","codon":"AAA","rscu":1.66},{"sp":"fe","codon":"AAG","rscu":0.45},{"sp":"fe","codon":"CUA","rscu":0.85},{"sp":"fe","codon":"CUC","rscu":0.38},{"sp":"fe","codon":"CUG","rscu":0.38},{"sp":"fe","codon":"CUT","rscu":1.43},{"sp":"fe","codon":"UTA","rscu":1.97},{"sp":"fe","codon":"UTG","rscu":1.28},{"sp":"fe","codon":"AUA(M)","rscu":0.02},{"sp":"fe","codon":"AUG(M)","rscu":2.93},{"sp":"fe","codon":"AUU(M)","rscu":0.02},{"sp":"fe","codon":"GUG(M)","rscu":0.02},{"sp":"fe","codon":"AAC","rscu":0.52},{"sp":"fe","codon":"AAU","rscu":1.66},{"sp":"fe","codon":"CCA","rscu":1.19},{"sp":"fe","codon":"CCC","rscu":0.73},{"sp":"fe","codon":"CCG","rscu":0.62},{"sp":"fe","codon":"CCU","rscu":1.66},{"sp":"fe","codon":"CAA","rscu":1.66},{"sp":"fe","codon":"CAG","rscu":0.52},{"sp":"fe","codon":"AGA","rscu":1.88},{"sp":"fe","codon":"AGG","rscu":0.62},{"sp":"fe","codon":"CGA","rscu":1.53},{"sp":"fe","codon":"CGC","rscu":0.38},{"sp":"fe","codon":"CGG","rscu":0.52},{"sp":"fe","codon":"CGU","rscu":1.57},{"sp":"fe","codon":"AGC","rscu":0.31},{"sp":"fe","codon":"AGU","rscu":1.37},{"sp":"fe","codon":"UCA","rscu":1.22},{"sp":"fe","codon":"UCC","rscu":0.96},{"sp":"fe","codon":"UCG","rscu":0.62},{"sp":"fe","codon":"UCT","rscu":1.8},{"sp":"fe","codon":"ACA","rscu":1.25},{"sp":"fe","codon":"ACC","rscu":0.74},{"sp":"fe","codon":"ACG","rscu":0.45},{"sp":"fe","codon":"ACU","rscu":1.78},{"sp":"fe","codon":"GUA","rscu":1.62},{"sp":"fe","codon":"GUC","rscu":0.46},{"sp":"fe","codon":"GUG(V)","rscu":0.6},{"sp":"fe","codon":"GUT","rscu":1.63},{"sp":"fe","codon":"UAC","rscu":0.4},{"sp":"fe","codon":"UAT","rscu":1.66},
{"sp":"eq","codon":"UAA(*)","rscu":1.65},{"sp":"eq","codon":"UAG(*)","rscu":0.73},{"sp":"eq","codon":"UGA(*)","rscu":0.76},{"sp":"eq","codon":"GCA","rscu":1.18},{"sp":"eq","codon":"GCC","rscu":0.7},{"sp":"eq","codon":"GCG","rscu":0.47},{"sp":"eq","codon":"GCU","rscu":1.87},{"sp":"eq","codon":"UGT","rscu":0.47},{"sp":"eq","codon":"UGC","rscu":1.62},{"sp":"eq","codon":"GAC","rscu":0.38},{"sp":"eq","codon":"GAU","rscu":1.66},{"sp":"eq","codon":"GAA","rscu":1.63},{"sp":"eq","codon":"GAG","rscu":0.5},{"sp":"eq","codon":"UTC","rscu":0.7},{"sp":"eq","codon":"UTT","rscu":1.5},{"sp":"eq","codon":"GGA","rscu":1.64},{"sp":"eq","codon":"GGC","rscu":0.48},{"sp":"eq","codon":"GGG","rscu":0.69},{"sp":"eq","codon":"GGU","rscu":1.57},{"sp":"eq","codon":"CAC","rscu":0.48},{"sp":"eq","codon":"CAU","rscu":1.63},{"sp":"eq","codon":"AUA(I)","rscu":1.1},{"sp":"eq","codon":"AUC","rscu":0.55},{"sp":"eq","codon":"AUT","rscu":1.64},{"sp":"eq","codon":"AAA","rscu":1.66},{"sp":"eq","codon":"AAG","rscu":0.45},{"sp":"eq","codon":"CUA","rscu":0.85},{"sp":"eq","codon":"CUC","rscu":0.38},{"sp":"eq","codon":"CUG","rscu":0.38},{"sp":"eq","codon":"CUT","rscu":1.43},{"sp":"eq","codon":"UTA","rscu":1.97},{"sp":"eq","codon":"UTG","rscu":1.28},{"sp":"eq","codon":"AUA(M)","rscu":0.02},{"sp":"eq","codon":"AUG(M)","rscu":2.93},{"sp":"eq","codon":"AUU(M)","rscu":0.02},{"sp":"eq","codon":"GUG(M)","rscu":0.02},{"sp":"eq","codon":"AAC","rscu":0.52},{"sp":"eq","codon":"AAU","rscu":1.66},{"sp":"eq","codon":"CCA","rscu":1.19},{"sp":"eq","codon":"CCC","rscu":0.73},{"sp":"eq","codon":"CCG","rscu":0.62},{"sp":"eq","codon":"CCU","rscu":1.66},{"sp":"eq","codon":"CAA","rscu":1.66},{"sp":"eq","codon":"CAG","rscu":0.52},{"sp":"eq","codon":"AGA","rscu":1.88},{"sp":"eq","codon":"AGG","rscu":0.62},{"sp":"eq","codon":"CGA","rscu":1.53},{"sp":"eq","codon":"CGC","rscu":0.38},{"sp":"eq","codon":"CGG","rscu":0.52},{"sp":"eq","codon":"CGU","rscu":1.57},{"sp":"eq","codon":"AGC","rscu":0.31},{"sp":"eq","codon":"AGU","rscu":1.37},{"sp":"eq","codon":"UCA","rscu":1.22},{"sp":"eq","codon":"UCC","rscu":0.96},{"sp":"eq","codon":"UCG","rscu":0.62},{"sp":"eq","codon":"UCT","rscu":1.8},{"sp":"eq","codon":"ACA","rscu":1.25},{"sp":"eq","codon":"ACC","rscu":0.74},{"sp":"eq","codon":"ACG","rscu":0.45},{"sp":"eq","codon":"ACU","rscu":1.78},{"sp":"eq","codon":"GUA","rscu":1.62},{"sp":"eq","codon":"GUC","rscu":0.46},{"sp":"eq","codon":"GUG(V)","rscu":0.6},{"sp":"eq","codon":"GUT","rscu":1.63},{"sp":"eq","codon":"UAC","rscu":0.4},{"sp":"eq","codon":"UAT","rscu":1.66},
{"sp":"ol","codon":"UAA(*)","rscu":1.65},{"sp":"ol","codon":"UAG(*)","rscu":0.73},{"sp":"ol","codon":"UGA(*)","rscu":0.76},{"sp":"ol","codon":"GCA","rscu":1.18},{"sp":"ol","codon":"GCC","rscu":0.7},{"sp":"ol","codon":"GCG","rscu":0.47},{"sp":"ol","codon":"GCU","rscu":1.87},{"sp":"ol","codon":"UGT","rscu":0.47},{"sp":"ol","codon":"UGC","rscu":1.62},{"sp":"ol","codon":"GAC","rscu":0.38},{"sp":"ol","codon":"GAU","rscu":1.66},{"sp":"ol","codon":"GAA","rscu":1.63},{"sp":"ol","codon":"GAG","rscu":0.5},{"sp":"ol","codon":"UTC","rscu":0.7},{"sp":"ol","codon":"UTT","rscu":1.5},{"sp":"ol","codon":"GGA","rscu":1.64},{"sp":"ol","codon":"GGC","rscu":0.48},{"sp":"ol","codon":"GGG","rscu":0.69},{"sp":"ol","codon":"GGU","rscu":1.57},{"sp":"ol","codon":"CAC","rscu":0.48},{"sp":"ol","codon":"CAU","rscu":1.63},{"sp":"ol","codon":"AUA(I)","rscu":1.1},{"sp":"ol","codon":"AUC","rscu":0.55},{"sp":"ol","codon":"AUT","rscu":1.64},{"sp":"ol","codon":"AAA","rscu":1.66},{"sp":"ol","codon":"AAG","rscu":0.45},{"sp":"ol","codon":"CUA","rscu":0.85},{"sp":"ol","codon":"CUC","rscu":0.38},{"sp":"ol","codon":"CUG","rscu":0.38},{"sp":"ol","codon":"CUT","rscu":1.43},{"sp":"ol","codon":"UTA","rscu":1.97},{"sp":"ol","codon":"UTG","rscu":1.28},{"sp":"ol","codon":"AUA(M)","rscu":0.02},{"sp":"ol","codon":"AUG(M)","rscu":4.0},{"sp":"ol","codon":"AUU(M)","rscu":0.02},{"sp":"ol","codon":"GUG(M)","rscu":0.02},{"sp":"ol","codon":"AAC","rscu":0.52},{"sp":"ol","codon":"AAU","rscu":1.66},{"sp":"ol","codon":"CCA","rscu":1.19},{"sp":"ol","codon":"CCC","rscu":0.73},{"sp":"ol","codon":"CCG","rscu":0.62},{"sp":"ol","codon":"CCU","rscu":1.66},{"sp":"ol","codon":"CAA","rscu":1.66},{"sp":"ol","codon":"CAG","rscu":0.52},{"sp":"ol","codon":"AGA","rscu":1.88},{"sp":"ol","codon":"AGG","rscu":0.62},{"sp":"ol","codon":"CGA","rscu":1.53},{"sp":"ol","codon":"CGC","rscu":0.38},{"sp":"ol","codon":"CGG","rscu":0.52},{"sp":"ol","codon":"CGU","rscu":1.57},{"sp":"ol","codon":"AGC","rscu":0.31},{"sp":"ol","codon":"AGU","rscu":1.37},{"sp":"ol","codon":"UCA","rscu":1.22},{"sp":"ol","codon":"UCC","rscu":0.96},{"sp":"ol","codon":"UCG","rscu":0.62},{"sp":"ol","codon":"UCT","rscu":1.8},{"sp":"ol","codon":"ACA","rscu":1.25},{"sp":"ol","codon":"ACC","rscu":0.74},{"sp":"ol","codon":"ACG","rscu":0.45},{"sp":"ol","codon":"ACU","rscu":1.78},{"sp":"ol","codon":"GUA","rscu":1.62},{"sp":"ol","codon":"GUC","rscu":0.46},{"sp":"ol","codon":"GUG(V)","rscu":0.6},{"sp":"ol","codon":"GUT","rscu":1.63},{"sp":"ol","codon":"UAC","rscu":0.4},{"sp":"ol","codon":"UAT","rscu":1.66}
]},
"data":{"name":"cells"},
"transform":[{"lookup":"sp","from":{"data":{"name":"species"},"key":"sp","fields":["label","order"]}}],
"mark":{"type":"rect","stroke":"#9e9e9e","strokeWidth":1.2},
"encoding":{
"x":{"field":"codon","type":"nominal","sort":null,"scale":{"paddingInner":0,"paddingOuter":0},"axis":{"orient":"bottom","title":null,"labelAngle":90,"ticks":false,"domain":false,"labelFont":"Liberation Sans","labelFontSize":15.5,"labelColor":"#1a1a1a","labelPadding":7}},
"y":{"field":"label","type":"nominal","sort":{"field":"order","op":"min"},"scale":{"paddingInner":0,"paddingOuter":0},"axis":{"orient":"right","title":null,"ticks":false,"domain":false,"labelExpr":"split(datum.value,'|')","labelOffset":{"condition":{"test":"indexof(datum.value,'|')>=0","value":-9},"value":0},"labelFont":"Liberation Serif","labelFontStyle":"italic","labelFontSize":20.5,"labelLineHeight":18.5,"labelPadding":12,"labelLimit":400,"labelColor":"#000000"}},
"color":{"field":"rscu","type":"quantitative","scale":{"domain":[0,0.5,1,1.5,2,2.5,3,3.5,4],"range":["#2166ac","#4393c3","#92c5de","#d1e5f0","#f7f7f7","#fddbc7","#f4a582","#d6604d","#b2182b"],"interpolate":"rgb"},"legend":{"title":null,"orient":"right","offset":38,"direction":"vertical","gradientLength":270,"gradientThickness":18,"gradientStrokeWidth":0,"values":[0,1,2,3],"labelFont":"Liberation Sans","labelFontSize":17,"labelOffset":7,"labelColor":"#1a1a1a"}}
}
}
